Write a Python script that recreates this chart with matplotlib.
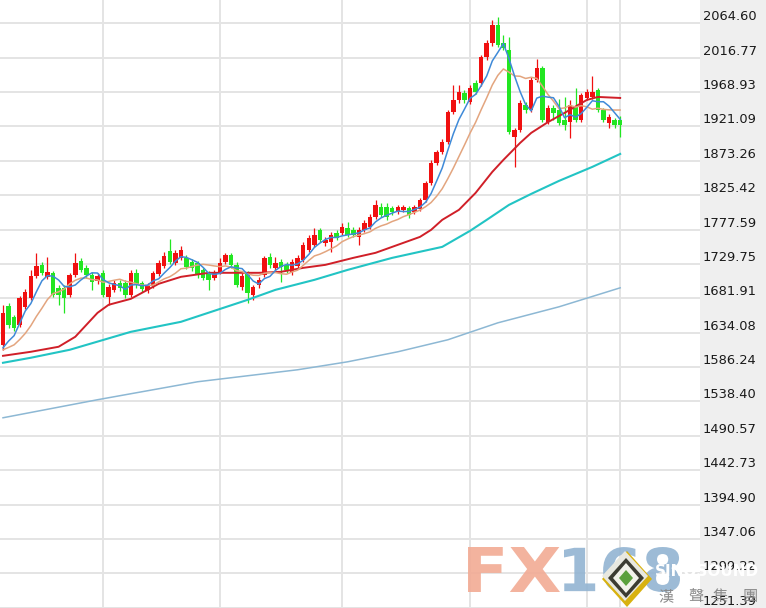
import numpy as np
import pandas as pd
import matplotlib
matplotlib.use("Agg")
import matplotlib.pyplot as plt
from matplotlib.patches import Rectangle, Polygon, PathPatch
from matplotlib.textpath import TextPath
from matplotlib.font_manager import FontProperties
from matplotlib.transforms import Affine2D

# ---- DATA (daily candles) ----
opens = [
    1617.2, 1671.5, 1656.2, 1645.1, 1670.1, 1682.6, 1713.2, 1728.5, 1711.8, 1717.4,
    1696.5, 1696.5, 1686.8, 1714.6, 1734.1, 1724.3, 1714.6, 1706.2, 1717.4, 1684.0,
    1693.7, 1703.5, 1703.5, 1686.8, 1717.4, 1703.5, 1693.7, 1699.3, 1716.0, 1727.1,
    1748.0, 1731.3, 1738.2, 1738.2, 1732.7, 1731.3, 1721.5, 1717.4, 1710.4, 1718.8,
    1732.7, 1742.4, 1728.5, 1697.9, 1717.4, 1686.8, 1700.7, 1714.6, 1739.6, 1724.3,
    1732.7, 1728.5, 1718.8, 1727.1, 1735.4, 1749.3, 1756.3, 1777.2, 1759.1, 1760.5,
    1773.0, 1773.0, 1779.9, 1777.2, 1767.4, 1777.2, 1781.3, 1795.2, 1809.1, 1809.1,
    1807.8, 1802.2, 1805.0, 1807.8, 1802.2, 1806.4, 1818.9, 1842.5, 1870.3, 1885.6,
    1899.5, 1941.3, 1957.9, 1967.7, 1955.2, 1981.6, 1981.6, 2017.7, 2037.2, 2062.2,
    2037.2, 2027.5, 1906.5, 1916.2, 1951.0, 1944.0, 1985.8, 2002.4, 1927.3, 1946.8,
    1944.0, 1930.1, 1927.3, 1948.2, 1930.1, 1960.7, 1962.1, 1971.8, 1944.0, 1926.0,
    1930.1, 1930.1]
highs = [
    1672.9, 1675.6, 1659.0, 1685.4, 1695.1, 1721.5, 1745.2, 1732.7, 1739.6, 1720.1,
    1700.7, 1700.7, 1717.4, 1745.2, 1738.2, 1728.5, 1718.8, 1717.4, 1721.5, 1702.1,
    1707.6, 1707.6, 1707.6, 1721.5, 1722.9, 1706.2, 1703.5, 1720.1, 1735.4, 1746.6,
    1764.6, 1749.3, 1754.9, 1742.4, 1736.8, 1734.1, 1724.3, 1720.1, 1721.5, 1738.2,
    1745.2, 1745.2, 1732.7, 1717.4, 1720.1, 1700.7, 1711.8, 1741.0, 1745.2, 1739.6,
    1736.8, 1732.7, 1736.8, 1742.4, 1760.5, 1770.2, 1779.9, 1779.9, 1767.4, 1774.4,
    1777.2, 1786.9, 1788.3, 1781.3, 1781.3, 1791.1, 1799.4, 1818.9, 1814.7, 1814.7,
    1810.5, 1811.9, 1811.9, 1810.5, 1811.9, 1821.7, 1845.3, 1874.5, 1888.4, 1903.7,
    1944.0, 1978.8, 1978.8, 1971.8, 1978.8, 1985.8, 2020.5, 2041.4, 2069.2, 2073.4,
    2048.3, 2045.5, 1919.0, 1957.9, 1955.2, 1989.9, 2015.0, 2005.2, 1951.0, 1951.0,
    1959.3, 1962.1, 1957.9, 1974.6, 1967.7, 1973.2, 1991.3, 1974.6, 1946.8, 1938.5,
    1932.9, 1935.7]
lows = [
    1610.3, 1640.9, 1636.7, 1642.3, 1667.3, 1679.8, 1710.4, 1714.6, 1709.0, 1684.0,
    1672.9, 1661.7, 1684.0, 1711.8, 1718.8, 1710.4, 1693.7, 1702.1, 1684.0, 1672.9,
    1690.9, 1692.3, 1682.6, 1684.0, 1696.5, 1690.9, 1689.5, 1696.5, 1713.2, 1724.3,
    1729.9, 1728.5, 1735.4, 1722.9, 1720.1, 1710.4, 1707.6, 1693.7, 1707.6, 1716.0,
    1729.9, 1724.3, 1697.9, 1693.7, 1675.6, 1679.8, 1696.5, 1711.8, 1724.3, 1721.5,
    1704.8, 1717.4, 1714.6, 1724.3, 1732.7, 1746.6, 1753.5, 1760.5, 1754.9, 1746.6,
    1763.3, 1770.2, 1767.4, 1767.4, 1756.3, 1774.4, 1778.6, 1792.5, 1795.2, 1791.1,
    1798.0, 1799.4, 1802.2, 1793.8, 1799.4, 1803.6, 1816.1, 1839.7, 1867.5, 1882.8,
    1896.8, 1938.5, 1953.8, 1953.8, 1952.4, 1966.3, 1977.4, 2013.6, 2033.0, 2031.6,
    2027.5, 1910.7, 1864.8, 1913.4, 1939.9, 1941.3, 1983.0, 1927.3, 1924.6, 1930.1,
    1923.2, 1916.2, 1905.1, 1927.3, 1927.3, 1957.9, 1959.3, 1941.3, 1927.3, 1919.0,
    1919.0, 1906.5]
closes = [
    1661.7, 1645.1, 1640.9, 1682.6, 1690.9, 1713.2, 1727.1, 1717.4, 1718.8, 1686.8,
    1686.8, 1682.6, 1714.6, 1731.3, 1721.5, 1714.6, 1704.8, 1713.2, 1686.8, 1697.9,
    1703.5, 1696.5, 1686.8, 1717.4, 1700.7, 1695.1, 1700.7, 1717.4, 1731.3, 1741.0,
    1732.7, 1745.2, 1749.3, 1725.7, 1724.3, 1714.6, 1710.4, 1707.6, 1718.8, 1731.3,
    1742.4, 1728.5, 1700.7, 1713.2, 1689.5, 1697.9, 1707.6, 1738.2, 1728.5, 1731.3,
    1725.7, 1721.5, 1732.7, 1738.2, 1756.3, 1766.0, 1770.2, 1763.3, 1763.3, 1770.2,
    1766.0, 1781.3, 1770.2, 1770.2, 1777.2, 1786.9, 1795.2, 1811.9, 1798.0, 1795.2,
    1802.2, 1809.1, 1809.1, 1798.0, 1809.1, 1818.9, 1842.5, 1870.3, 1885.6, 1899.5,
    1941.3, 1957.9, 1969.1, 1957.9, 1974.6, 1969.1, 2017.7, 2037.2, 2062.2, 2034.4,
    2030.3, 1913.4, 1916.2, 1953.8, 1944.0, 1985.8, 2002.4, 1930.1, 1946.8, 1939.9,
    1926.0, 1923.2, 1951.0, 1930.1, 1964.9, 1969.1, 1969.1, 1944.0, 1930.1, 1934.3,
    1923.2, 1923.2]

# closes before the first visible candle, estimated from where MA5 / MA10 start
closes_before = [1612.0, 1605.0, 1609.0, 1606.0, 1606.0, 1598.0, 1603.0, 1597.0, 1605.3]

# longer moving averages at some candles
ma20_idx = [0, 5, 10, 13, 17, 19, 23, 28, 32, 37, 41, 46, 50, 54, 58, 63, 67, 71,
            75, 77, 79, 82, 85, 88, 90, 93, 95, 98, 101, 105, 107, 111]
ma20_val = [1601.9, 1607.5, 1614.5, 1628.4, 1661.7, 1672.9, 1681.2, 1702.1, 1711.8,
            1717.4, 1717.4, 1717.4, 1718.8, 1724.3, 1728.5, 1738.2, 1745.2, 1756.3,
            1767.4, 1777.2, 1791.1, 1805.0, 1828.6, 1857.8, 1874.5, 1898.1, 1912.1,
            1927.0, 1939.9, 1957.9, 1962.1, 1960.7]
ma60_idx = [0, 5, 12, 23, 32, 44, 49, 56, 62, 70, 79, 84, 87, 91, 95, 100, 106, 111]
ma60_val = [1592.2, 1599.2, 1610.3, 1635.3, 1649.2, 1679.8, 1693.7, 1707.6, 1721.5,
            1738.2, 1753.5, 1775.8, 1791.1, 1811.9, 1827.2, 1845.3, 1864.8, 1882.8]
ma120_idx = [0, 17, 35, 53, 62, 71, 80, 89, 100, 111]
ma120_val = [1515.7, 1540.8, 1565.8, 1582.5, 1593.6, 1607.5, 1624.2, 1647.8, 1670.1,
             1696.5]

y_ticks = [2064.60, 2016.77, 1968.93, 1921.09, 1873.26, 1825.42, 1777.59, 1729.75,
           1681.91, 1634.08, 1586.24, 1538.40, 1490.57, 1442.73, 1394.90, 1347.06,
           1299.22, 1251.39]
month_lines = [18, 39, 61, 84, 105, 111]

# ---- FIGURE SETUP ----
W, H = 766, 608
fig = plt.figure(figsize=(W / 100, H / 100), dpi=100)
fig.patch.set_facecolor("white")
fig.add_artist(Rectangle((700 / W, 0), 66 / W, 1, transform=fig.transFigure,
                         facecolor="#efefef", edgecolor="none", zorder=0))

ax = fig.add_axes([0, 0, 700 / W, 1])
ax.set_facecolor("white")
ax.set_xlim(-0.54, 125.36)
ax.set_ylim(1251.0, 2097.0)
for s in ax.spines.values():
    s.set_visible(False)

ax.set_yticks(y_ticks)
ax.set_yticklabels([f"{v:.2f}" for v in y_ticks])
ax.yaxis.tick_right()
ax.tick_params(axis="y", length=0, pad=2.2, labelsize=9.4, labelcolor="#1a1a1a")
for lab in ax.get_yticklabels():
    lab.set_verticalalignment("bottom")
ax.set_xticks(month_lines)
ax.tick_params(axis="x", length=0, labelbottom=False)
ax.grid(True, color="#e4e4e4", linewidth=1.4, zorder=0)
ax.set_axisbelow(True)

# ---- CANDLES ----
o = np.array(opens)
h = np.array(highs)
l = np.array(lows)
c = np.array(closes)
x = np.arange(len(c))
up = c >= o
cols = np.where(up, "#f01010", "#22e622")

ax.vlines(x, l, h, colors=cols, linewidth=0.9, zorder=2)
body_bottom = np.minimum(o, c)
body_h = np.maximum(np.abs(c - o), 1.2)
ax.bar(x, body_h, bottom=body_bottom, width=0.8, color=cols, linewidth=0, zorder=3)

# ---- MOVING AVERAGES ----
all_closes = pd.Series(closes_before + closes)
ma5 = all_closes.rolling(5).mean().iloc[len(closes_before):].values
ma10 = all_closes.rolling(10).mean().iloc[len(closes_before):].values

ax.plot(ma120_idx, ma120_val, color="#8db8d4", linewidth=1.1, zorder=4)
ax.plot(ma60_idx, ma60_val, color="#22c4c4", linewidth=1.5, zorder=4)
ax.plot(ma20_idx, ma20_val, color="#d01f28", linewidth=1.4, zorder=5)
ax.plot(x, ma10, color="#e3a57f", linewidth=1.1, zorder=5)
ax.plot(x, ma5, color="#3f8ad8", linewidth=1.1, zorder=6)

# ---- WATERMARK ----
bold = FontProperties(family="DejaVu Sans", weight="bold")


def fit_text(s, x0, x1, y0, y1, color):
    # draw text stretched into a pixel box (y measured from the bottom)
    tp = TextPath((0, 0), s, size=10, prop=bold)
    ext = tp.get_extents()
    tr = (Affine2D().translate(-ext.x0, -ext.y0)
          .scale((x1 - x0) / ext.width, (y1 - y0) / ext.height)
          .translate(x0, y0).scale(1 / W, 1 / H) + fig.transFigure)
    fig.add_artist(PathPatch(tp, transform=tr, facecolor=color, edgecolor="none",
                             alpha=0.9, zorder=10))


fit_text("FX", 468, 560, 16, 61, "#f2ab94")
fit_text("168", 564, 680, 16, 61, "#92b4d2")


def diamond(cx, cy, hw, hh, color):
    pts = [((cx) / W, 1 - (cy - hh) / H), ((cx + hw) / W, 1 - cy / H),
           ((cx) / W, 1 - (cy + hh) / H), ((cx - hw) / W, 1 - cy / H)]
    fig.add_artist(Polygon(pts, closed=True, transform=fig.transFigure,
                           facecolor=color, edgecolor="none", zorder=11))


diamond(627, 579, 25, 28, "#d8b210")
diamond(625, 576, 23, 25, "#e8e8e0")
diamond(626, 578, 18, 20, "#3c3c32")
diamond(626, 578, 13, 15, "#f2f2ea")
diamond(626, 578, 7, 8, "#5aa03c")

fig.text(655 / W, 1 - 571 / H, "SINOSOUND", color="white", fontsize=11,
         fontweight="bold", va="center", ha="left", zorder=12)
for cx, ch in zip([666, 696, 720, 750], ["漢", "聲", "集", "團"]):
    fig.text(cx / W, 1 - 597 / H, ch, color="#8a8a8a", fontsize=11,
             family=["Noto Sans CJK TC", "DejaVu Sans"], ha="center", va="center",
             zorder=12)

fig.savefig("out.png", dpi=100)
